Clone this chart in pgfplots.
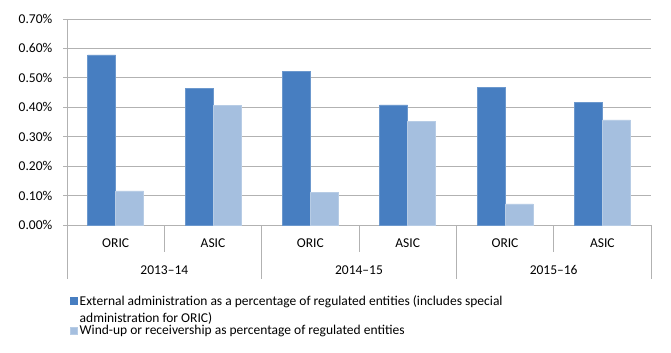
\documentclass[border=0pt]{standalone}
\usepackage{pgfplots}
\pgfplotsset{compat=1.18}
\usepackage{fontspec}
\setmainfont{Carlito}
\definecolor{darkb}{RGB}{71,126,193}
\definecolor{lightb}{RGB}{165,191,223}
\definecolor{gridc}{RGB}{178,178,178}
\begin{document}
\fontsize{13.5bp}{16bp}\selectfont
\begin{tikzpicture}[x=1bp,y=1bp]
\useasboundingbox (0,0) rectangle (671,352);
\begin{axis}[
  at={(67bp,127bp)}, anchor=south west,
  scale only axis, width=584bp, height=206bp,
  xmin=-0.5, xmax=5.5, ymin=0, ymax=0.7,
  ybar=0pt, bar width=28bp,
  axis x line*=bottom, axis y line*=left,
  axis line style={gridc, line width=0.9bp},
  ytick={0,0.1,0.2,0.3,0.4,0.5,0.6,0.7},
  ymajorgrids, grid style={gridc, line width=0.9bp},
  ytick style={gridc, line width=0.9bp}, major tick length=4bp,
  tick align=outside,
  yticklabel={\pgfmathprintnumber[fixed,fixed zerofill,precision=2]{\tick}\%},
  /pgf/number format/assume math mode=true,
  yticklabel style={font=\fontsize{13.5bp}{16bp}\selectfont, xshift=-6bp},
  xtick={0,1,2,3,4,5}, xticklabels={},
  xtick style={draw=none},
  clip=false,
  legend style={at={(axis description cs:0.005,-0.33)}, anchor=north west,
    draw=none, font=\fontsize{13.5bp}{17.5bp}\selectfont, nodes={align=left},
    row sep=-3bp, inner sep=0pt},
  legend cell align=left,
  legend image code/.code={\fill[#1] (0bp,-3.5bp) rectangle (7bp,3.5bp);},
]
\addplot[fill=darkb, draw=darkb!80!white, line width=0.6bp,
  legend image code/.code={\fill[darkb] (0bp,5.2bp) rectangle (7bp,12.2bp);}] coordinates {(0,0.578) (1,0.464) (2,0.522) (3,0.408) (4,0.468) (5,0.416)};
\addplot[fill=lightb, draw=lightb!80!white, line width=0.6bp] coordinates {(0,0.116) (1,0.407) (2,0.111) (3,0.352) (4,0.072) (5,0.357)};
\legend{External administration as a percentage of regulated entities (includes special\\administration for ORIC),Wind-up or receivership as percentage of regulated entities}
\node[anchor=base, inner sep=0pt] at (axis cs:0,0) [yshift=-22.5bp] {ORIC};
\node[anchor=base, inner sep=0pt] at (axis cs:1,0) [yshift=-22.5bp] {ASIC};
\node[anchor=base, inner sep=0pt] at (axis cs:2,0) [yshift=-22.5bp] {ORIC};
\node[anchor=base, inner sep=0pt] at (axis cs:3,0) [yshift=-22.5bp] {ASIC};
\node[anchor=base, inner sep=0pt] at (axis cs:4,0) [yshift=-22.5bp] {ORIC};
\node[anchor=base, inner sep=0pt] at (axis cs:5,0) [yshift=-22.5bp] {ASIC};
\node[anchor=base, inner sep=0pt] at (axis cs:0.5,0) [yshift=-49.5bp] {2013--14};
\node[anchor=base, inner sep=0pt] at (axis cs:2.5,0) [yshift=-49.5bp] {2014--15};
\node[anchor=base, inner sep=0pt] at (axis cs:4.5,0) [yshift=-49.5bp] {2015--16};
\draw[gridc, line width=0.9bp] (axis cs:0.5,0) -- ++(0bp,-27bp);
\draw[gridc, line width=0.9bp] (axis cs:2.5,0) -- ++(0bp,-27bp);
\draw[gridc, line width=0.9bp] (axis cs:4.5,0) -- ++(0bp,-27bp);
\draw[gridc, line width=0.9bp] (axis cs:-0.5,0) -- ++(0bp,-54bp);
\draw[gridc, line width=0.9bp] (axis cs:1.5,0) -- ++(0bp,-54bp);
\draw[gridc, line width=0.9bp] (axis cs:3.5,0) -- ++(0bp,-54bp);
\draw[gridc, line width=0.9bp] (axis cs:5.5,0) -- ++(0bp,-54bp);
\end{axis}
\end{tikzpicture}
\end{document}
